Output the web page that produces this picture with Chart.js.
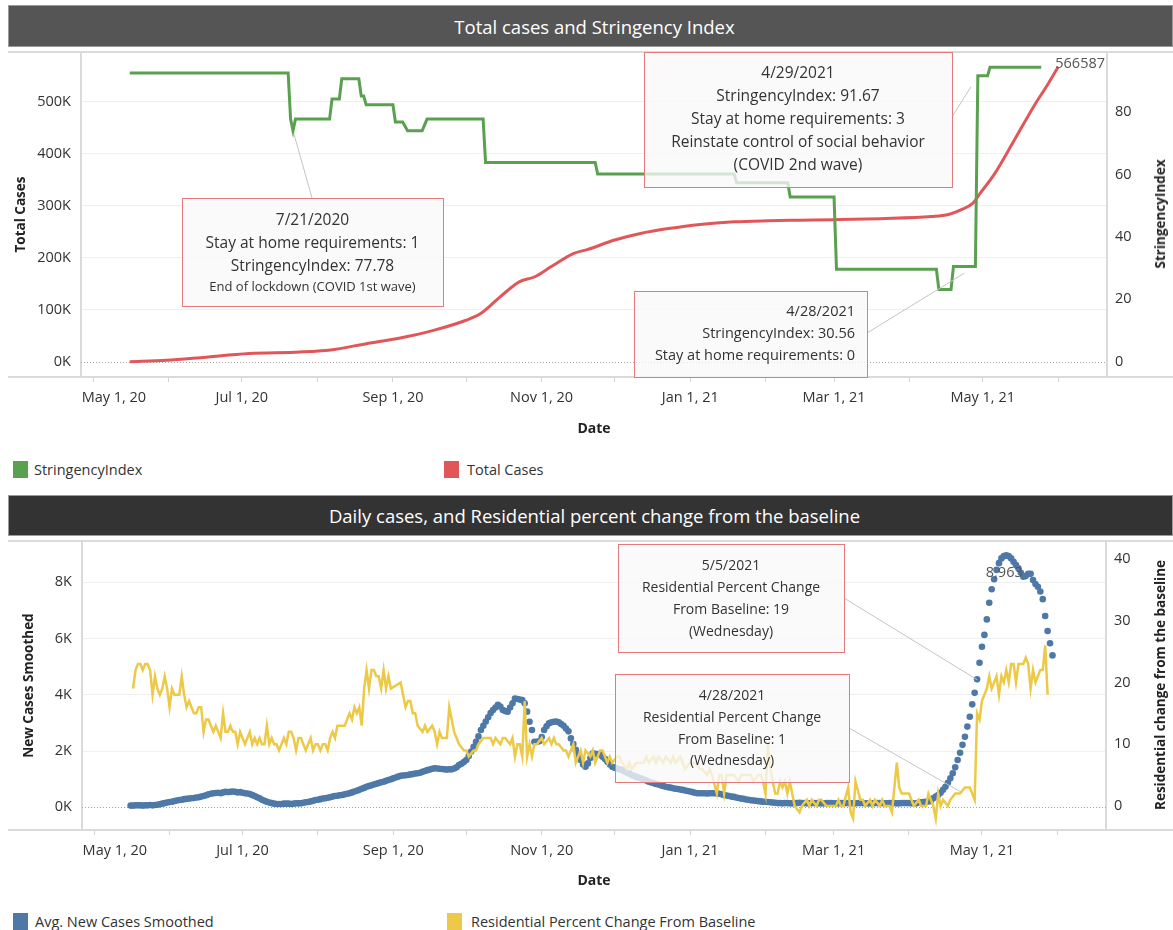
<!DOCTYPE html>
<html lang="en">
<head>
<meta charset="UTF-8">
<title>Total cases and Stringency Index</title>
<script src="https://cdn.jsdelivr.net/npm/chart.js@4.4.0/dist/chart.umd.min.js"></script>
<style>
  body { margin: 0; background: #fff; font-family: 'Open Sans', sans-serif; color: #333; }
  .page { position: relative; width: 1173px; height: 930px; overflow: hidden; }
  .header {
    position: absolute; left: 8px; width: 1163px; padding-left: 8px; box-sizing: border-box;
    display: flex; align-items: center; justify-content: center;
    color: #fff; font-size: 18.5px; border: 1px solid #9a9a9a;
  }
  .chart-box { position: absolute; left: 0; }
  .title-right {
    position: absolute; font-weight: bold; font-size: 13.5px; color: #222; white-space: nowrap;
    transform: translate(-50%, -50%) rotate(-90deg);
  }
  .swatch { position: absolute; width: 15px; height: 17px; }
  .legend-text { position: absolute; font-size: 14.5px; line-height: 17px; color: #333; }
</style>
</head>
<body>
<div class="page">
  <div class="header" style="top:5px;height:42px;width:1165px;background:#555;">Total cases and Stringency Index</div>
  <div class="chart-box" style="top:40px;"><canvas id="topChart" width="1173" height="412"></canvas></div>
  <div class="title-right" style="left:1160px;top:214px;">StringencyIndex</div>
  <div class="swatch" style="left:13px;top:461px;background:#59a14f;"></div>
  <div class="legend-text" style="left:34px;top:461px;">StringencyIndex</div>
  <div class="swatch" style="left:444px;top:461px;background:#e15759;"></div>
  <div class="legend-text" style="left:467px;top:461px;">Total Cases</div>

  <div class="header" style="top:495px;height:41px;width:1165px;background:#333;">Daily cases, and Residential percent change from the baseline</div>
  <div class="chart-box" style="top:529px;"><canvas id="bottomChart" width="1173" height="375"></canvas></div>
  <div class="title-right" style="left:1160px;top:685px;">Residential change from the baseline</div>
  <div class="swatch" style="left:13px;top:913px;background:#4e79a7;"></div>
  <div class="legend-text" style="left:35px;top:913px;">Avg. New Cases Smoothed</div>
  <div class="swatch" style="left:447px;top:913px;background:#edc948;"></div>
  <div class="legend-text" style="left:471px;top:913px;">Residential Percent Change From Baseline</div>
</div>

<script>
// x values are days counted from May 1, 2020
const monthTicks = [0, 31, 61, 92, 123, 153, 184, 214, 245, 276, 304, 335, 365, 396];
const monthLabels = ['May 1, 20', '', 'Jul 1, 20', '', 'Sep 1, 20', '', 'Nov 1, 20', '', 'Jan 1, 21', '', 'Mar 1, 21', '', 'May 1, 21', ''];

const casesTicks = [0, 100000, 200000, 300000, 400000, 500000];
const indexTicks = [0, 20, 40, 60, 80];
const newCasesTicks = [0, 2000, 4000, 6000, 8000];
const residentialTicks = [0, 10, 20, 30, 40];

// Stringency index, corners of the daily line
const stringencyDays = [15, 80, 81, 82, 83, 97, 98, 101, 102, 109, 110, 111, 112, 123, 124, 127, 129, 135, 137, 160,
  161, 206, 207, 263, 264, 285, 286, 304, 305, 346, 347, 352, 353, 362, 363, 367, 368, 389];
const stringencyValues = [92.59, 92.59, 77.78, 74.07, 77.78, 77.78, 84.26, 84.26, 90.74, 90.74, 85.19, 85.19, 82.41, 82.41, 76.85, 76.85, 74.07, 74.07, 77.78, 77.78,
  63.89, 63.89, 60.19, 60.19, 57.41, 57.41, 52.78, 52.78, 29.63, 29.63, 23.15, 23.15, 30.56, 30.56, 91.67, 91.67, 94.44, 94.44];

// Total cases
const casesDays = [15, 30, 44, 64, 85, 99, 112, 126, 140, 153, 159, 167, 175, 181, 188, 197, 203, 214, 225, 236,
  249, 263, 277, 290, 304, 323, 344, 351, 356, 361, 364, 370, 378, 386, 392, 396];
const casesValues = [200, 3000, 8000, 16000, 19000, 24000, 35000, 46000, 61000, 80000, 93000, 125000, 154000, 163000, 183000, 208000, 216000, 234000, 247000, 256000,
  264000, 269000, 271000, 272000, 273000, 275000, 279000, 283000, 292000, 305000, 324000, 362000, 426000, 491000, 535000, 566587];

// Avg. new cases smoothed, one value per day from day 15
const newCasesFirstDay = 15;
const newCases = [
  60, 60, 70, 70, 70, 60, 70, 70, 80, 70, 80,
  90, 110, 130, 150, 170, 190, 200, 220, 240, 260,
  270, 290, 300, 310, 320, 330, 350, 360, 380,
  400, 430, 460, 480, 500,
  510, 520, 500, 530, 550, 540, 550, 560,
  550, 530, 540, 520, 500, 490,
  470, 440, 400, 360, 320, 270, 230, 200,
  170, 150, 130, 120,
  120, 120, 130, 130, 130, 120, 130, 140, 140, 140,
  160, 180, 190, 210, 230, 260,
  270, 290, 310, 320, 340, 360, 380,
  400, 410, 430, 440, 460, 480, 500,
  530, 560, 590, 620, 660, 690, 730,
  760, 780, 810, 840, 860, 890, 910,
  940, 970, 1000, 1030, 1060, 1090, 1120,
  1130, 1140, 1150, 1170, 1180, 1200, 1210,
  1230, 1260, 1290, 1320, 1340, 1370, 1390,
  1380, 1370, 1360, 1350, 1340, 1350, 1350,
  1380, 1420, 1500, 1550, 1610, 1680,
  1820, 1980, 2150, 2330, 2520, 2750, 2900,
  3050, 3200, 3350, 3460, 3550, 3640, 3580,
  3460, 3420, 3400, 3550, 3700, 3870, 3850,
  3830, 3810, 3700, 3400,
  3040, 2750, 2330,
  2330, 2350, 2500, 2750, 2880, 2990, 3020, 3040,
  3050, 3020, 2960, 2900, 2800, 2700, 2450, 2250,
  2040, 1850, 1680, 1520, 1440, 1560, 1750,
  1920, 1900, 1890, 1880, 1800, 1720, 1620, 1520,
  1440, 1410, 1380, 1350, 1330, 1280, 1240,
  1200, 1150, 1120, 1080, 1050, 1020, 980,
  950, 910, 880, 860, 830, 810, 780,
  760, 730, 710, 700, 680, 660, 650,
  630, 620, 600, 580, 560, 540, 520,
  500, 500, 500, 500, 490, 500, 500,
  500, 500, 480, 460, 440, 420, 400,
  380, 370, 350, 330, 310, 300, 280,
  270, 250, 240, 230, 220, 210, 200,
  200, 190, 180, 170, 160, 150, 150,
  140, 150, 150, 140, 140, 150, 150, 160, 150, 150,
  140, 140, 150, 150, 150, 140, 140, 140, 150, 150,
  150, 140, 140, 140, 150, 150, 150, 150, 140, 140,
  140, 150, 150, 150, 140, 140, 140, 140, 150, 150,
  150, 150, 140, 140, 150, 150, 150, 140, 140, 150,
  150, 150, 150, 140, 140, 140,
  170, 180, 190, 200, 210,
  230, 320, 380, 440, 520, 620, 730, 870, 1030, 1210, 1420, 1680, 1940, 2220, 2510, 2870, 3220, 3660,
  4070, 4550, 5140, 5710, 6130, 6680, 7270, 7750, 8110, 8440, 8680, 8850, 8930, 8963,
  8930, 8850, 8730, 8610, 8500, 8340, 8200, 8220, 8300, 8300, 8080, 7940, 7840, 7670, 7400, 6800, 6270, 5830, 5400
];

// Residential percent change from baseline
const residentialDays = [
  16, 17, 18, 19, 20, 21, 22, 23, 24, 25, 26, 27, 28, 29, 30, 31, 32, 33, 34, 35,
  36, 37, 38, 39, 40, 41, 42, 43, 44, 45, 46, 47, 48, 49, 50, 51, 52, 53, 54, 55,
  56, 57, 58, 59, 60, 61, 62, 63, 64, 65, 66, 67, 68, 69, 70, 71, 72, 73, 74, 75,
  76, 77, 78, 79, 80, 81, 82, 83, 84, 85, 86, 87, 88, 89, 90, 91, 92, 93, 94, 95,
  96, 97, 98, 99, 100, 101, 102, 103, 104, 105, 106, 107, 108, 109, 110, 111, 112, 113, 114, 115,
  116, 117, 118, 119, 120, 121, 122,
  126, 127, 128, 129, 130, 131, 132, 133, 135, 136, 137, 139, 140, 141, 142, 143, 145, 146, 148, 149,
  150, 152, 153, 154, 156, 157, 158, 160, 161, 163, 164, 165, 167, 168, 169, 171, 172, 173, 174, 175,
  176, 177, 178, 179, 180, 181, 182, 184, 185, 187, 188, 189, 190, 191, 193, 194, 195, 197, 198, 200,
  201, 202, 204, 205, 206, 208, 209, 211, 212, 213, 215, 216, 217, 219, 220, 221, 223, 224, 226, 227,
  228, 230, 231, 232, 234, 235, 237, 238, 239, 241, 242, 243, 245, 246, 247, 249, 250, 252, 253, 254,
  256, 257, 258, 259, 260, 262, 263, 265, 266, 267, 269, 270, 271, 273, 274, 275, 276, 277, 278, 280,
  281, 282, 283, 284, 285, 286, 287, 288, 290, 291, 293, 294, 295, 297, 298, 299, 301, 302, 304, 305,
  306, 307, 308, 310, 311, 312, 313, 315, 316, 317, 319, 320, 321, 323, 324, 325, 327, 328, 330, 331,
  332, 333, 335, 336, 337, 339, 340, 342, 343, 345, 346, 347, 348, 349, 351, 352, 354, 355, 356, 358,
  360, 361, 362, 363, 364, 365, 366, 367, 368, 369, 370, 371, 372, 373, 374, 375, 376, 377, 378, 379,
  380, 381, 382, 383, 384, 385, 386, 387, 388, 389, 390, 391, 392
];
const residentialValues = [
  19, 22, 23, 23, 22, 23, 23, 22, 18, 21, 19, 18, 19, 21, 19, 16, 19, 18, 18, 18,
  21, 18, 16, 17, 16, 15, 15, 16, 16, 12, 14, 14, 13, 12, 13, 12, 11, 15, 12, 12,
  13, 12, 12, 10, 12, 11, 10, 11, 12, 10, 11, 10, 11, 10, 10, 13, 10, 11, 10, 10,
  9, 10, 11, 10, 12, 12, 11, 9, 11, 11, 10, 9, 10, 11, 9, 10, 10, 9, 10, 10,
  9, 11, 12, 11, 13, 13, 13, 13, 14, 15, 14, 16, 15, 16, 13, 19, 22, 19, 22, 22,
  21, 21, 19, 22, 19, 21, 19,
  20, 18, 16, 17, 17, 15, 15, 13, 12, 13, 12, 13, 12, 10, 12, 11, 11, 16, 12, 11,
  10, 9, 9, 8, 9, 9, 10, 11, 11, 11, 10, 11, 10, 11, 11, 10, 11, 8, 10, 10,
  8, 17, 8, 10, 8, 10, 10, 11, 10, 11, 10, 11, 10, 10, 9, 9, 8, 10, 7, 9,
  7, 9, 8, 9, 7, 9, 9, 7, 8, 7, 8, 8, 7, 6, 7, 6, 7, 7, 7, 8,
  7, 8, 7, 8, 7, 8, 7, 8, 7, 8, 7, 6, 7, 7, 7, 6, 6, 5, 6, 5,
  2, 5, 5, 2, 5, 5, 5, 4, 5, 5, 5, 5, 4, 5, 5, 4, 2, 10, 6, 2,
  2, 4, 3, 4, 2, 4, 2, 0, -1, 0, 1, 0, 1, 0, 1, 1, 0, 0, 0, 0,
  1, 0, 0, 3, -1, -2, 4, 1, 1, 0, 1, 0, 1, 0, 1, 0, 0, -1, 7, 3,
  2, 2, 2, 1, 0, 1, 0, 0, 2, 0, -2, 2, 0, 1, 0, 1, 2, 2, 2, 3,
  3, 2, 1, 15, 14, 17, 18, 19, 21, 19, 20, 21, 18, 21, 20, 22, 20, 23, 23, 20,
  23, 23, 23, 24, 23, 19, 22, 20, 21, 22, 22, 26, 18
];

const GREEN = '#59a14f', RED = '#e15759', BLUE = '#4e79a7', YELLOW = '#edc948';

Chart.defaults.font.family = '"Open Sans", sans-serif';
Chart.defaults.color = '#333';

const toPoints = (xs, ys) => xs.map((x, i) => ({x: x, y: ys[i]}));

// keep the pane exactly where the layout puts it: no extra room for half tick labels
function fixWidth(w) {
  return s => { s.width = w; s.paddingTop = 0; s.paddingBottom = 0; };
}

function dateAxis(height) {
  return {
    type: 'linear', min: -5, max: 416,
    afterBuildTicks: s => { s.ticks = monthTicks.map(v => ({value: v})); },
    afterFit: s => { s.height = height; s.paddingLeft = 0; s.paddingRight = 0; },
    grid: {drawOnChartArea: false, tickLength: 5, color: '#d4d4d4'},
    border: {display: false},
    ticks: {
      autoSkip: false, maxRotation: 0, padding: 7, font: {size: 14.5},
      // Tableau nudges the first label inside the pane
      callback: (v, i) => i === 0 ? monthLabels[i].padStart(monthLabels[i].length + 11) : monthLabels[i]
    },
    title: {display: true, text: 'Date', font: {size: 14, weight: 'bold'}, color: '#222', padding: {top: 0, bottom: 15}}
  };
}

// frame lines, dotted zero line, callout boxes and mark labels
function paneDecor(cfg) {
  return {
    id: 'paneDecor',
    beforeDatasetsDraw(chart) {
      const {ctx, chartArea: a} = chart;
      ctx.save();
      ctx.strokeStyle = '#dadada';
      ctx.lineWidth = 2;
      [a.top, a.bottom].forEach(y => {
        ctx.beginPath(); ctx.moveTo(8, y); ctx.lineTo(chart.width, y); ctx.stroke();
      });
      const y0 = Math.round(chart.scales[cfg.zeroAxis].getPixelForValue(0)) + 0.5;
      ctx.strokeStyle = '#a0a0a0';
      ctx.lineWidth = 1;
      ctx.setLineDash([1, 2]);
      ctx.beginPath(); ctx.moveTo(a.left, y0); ctx.lineTo(a.right, y0); ctx.stroke();
      ctx.restore();
    },
    afterDatasetsDraw(chart) {
      const {ctx} = chart;
      const off = cfg.offsetY;
      ctx.save();
      cfg.notes.forEach(n => {
        const [bx, byPage, bw, bh] = n.box;
        const by = byPage - off;
        const px = chart.scales.x.getPixelForValue(n.at[0]);
        const py = chart.scales[n.axis].getPixelForValue(n.at[1]);
        const sx = n.from[0], sy = n.from[1] - off;
        const len = Math.hypot(px - sx, py - sy);
        const k = (len - n.gap) / len;
        ctx.strokeStyle = '#c4c4c4';
        ctx.lineWidth = 1;
        ctx.beginPath(); ctx.moveTo(sx, sy); ctx.lineTo(sx + (px - sx) * k, sy + (py - sy) * k); ctx.stroke();

        ctx.fillStyle = 'rgba(249,249,249,0.78)';
        ctx.fillRect(bx, by, bw, bh);
        ctx.strokeStyle = '#e47a7b';
        ctx.strokeRect(bx + 0.5, by + 0.5, bw, bh);

        ctx.fillStyle = '#333';
        ctx.textBaseline = 'middle';
        ctx.textAlign = n.align;
        const tx = n.align === 'right' ? n.textX : bx + bw / 2;
        n.lines.forEach(l => {
          ctx.font = l[1] + 'px "Open Sans"';
          ctx.fillText(l[0], tx, l[2] - off);
        });
      });
      const m = cfg.mark;
      const pt = chart.getDatasetMeta(m.dataset).data[m.index];
      ctx.font = '14.5px "Open Sans"';
      ctx.fillStyle = '#555';
      ctx.textAlign = m.align;
      ctx.textBaseline = 'middle';
      ctx.fillText(m.text, pt.x + m.dx, pt.y + m.dy);
      ctx.restore();
    }
  };
}

new Chart(document.getElementById('topChart'), {
  type: 'line',
  data: {
    datasets: [
      {label: 'StringencyIndex', data: toPoints(stringencyDays, stringencyValues), yAxisID: 'yIndex',
        borderColor: GREEN, borderWidth: 3, pointRadius: 0, tension: 0, order: 1},
      {label: 'Total Cases', data: toPoints(casesDays, casesValues), yAxisID: 'yCases',
        borderColor: RED, borderWidth: 3, pointRadius: 0, cubicInterpolationMode: 'monotone', order: 2}
    ]
  },
  options: {
    responsive: false,
    animation: false,
    layout: {padding: {top: 12, left: 0, right: 0, bottom: 0}},
    plugins: {legend: {display: false}, tooltip: {enabled: false}},
    scales: {
      x: dateAxis(75),
      yCases: {
        position: 'left', min: -29000, max: 595000,
        afterBuildTicks: s => { s.ticks = casesTicks.map(v => ({value: v})); },
        afterFit: fixWidth(81),
        grid: {color: c => (c.tick && c.tick.value === 0) ? 'rgba(0,0,0,0)' : '#efefef', drawTicks: false},
        border: {color: '#dadada', width: 2},
        ticks: {padding: 10, font: {size: 14.5}, callback: v => (v / 1000) + 'K'},
        title: {display: true, text: 'Total Cases', font: {size: 13.5, weight: 'bold'}, color: '#222', padding: {top: 13, bottom: 0}}
      },
      yIndex: {
        position: 'right', min: -4.9, max: 99.3,
        afterBuildTicks: s => { s.ticks = indexTicks.map(v => ({value: v})); },
        afterFit: fixWidth(66),
        grid: {drawOnChartArea: false, drawTicks: false},
        border: {color: '#dadada', width: 2},
        ticks: {padding: 8, font: {size: 14.5}}
      }
    }
  },
  plugins: [paneDecor({
    offsetY: 40,
    zeroAxis: 'yCases',
    notes: [
      {box: [182, 198, 261, 108], align: 'center', from: [312, 198], at: [82, 74.07], axis: 'yIndex', gap: 3,
        lines: [['7/21/2020', 15.5, 221], ['Stay at home requirements: 1', 15.5, 244],
                ['StringencyIndex: 77.78', 15.5, 267], ['End of lockdown (COVID 1st wave)', 13, 287]]},
      {box: [644, 52, 308, 135], align: 'center', from: [952, 117], at: [363, 91.67], axis: 'yIndex', gap: 13,
        lines: [['4/29/2021', 15.5, 74], ['StringencyIndex: 91.67', 15.5, 97], ['Stay at home requirements: 3', 15.5, 120],
                ['Reinstate control of social behavior', 15.5, 143], ['(COVID 2nd wave)', 15.5, 166]]},
      {box: [634, 291, 233, 86], align: 'right', textX: 855, from: [867, 333], at: [362, 30.56], axis: 'yIndex', gap: 13,
        lines: [['4/28/2021', 14.5, 312], ['StringencyIndex: 30.56', 14.5, 334], ['Stay at home requirements: 0', 14.5, 356]]}
    ],
    mark: {dataset: 1, index: casesValues.length - 1, text: String(casesValues[casesValues.length - 1]), dx: -3, dy: -3, align: 'left'}
  })]
});

const peak = Math.max(...newCases);

new Chart(document.getElementById('bottomChart'), {
  type: 'line',
  data: {
    datasets: [
      {label: 'Residential Percent Change From Baseline', data: toPoints(residentialDays, residentialValues), yAxisID: 'yRes',
        borderColor: YELLOW, borderWidth: 2.5, pointRadius: 0, tension: 0, order: 1},
      {label: 'Avg. New Cases Smoothed', data: newCases.map((v, i) => ({x: newCasesFirstDay + i, y: v})), yAxisID: 'yNew',
        showLine: false, pointRadius: 3.3, pointBorderWidth: 0, pointBackgroundColor: BLUE, borderColor: BLUE, order: 2}
    ]
  },
  options: {
    responsive: false,
    animation: false,
    layout: {padding: {top: 12, left: 0, right: 0, bottom: 0}},
    plugins: {legend: {display: false}, tooltip: {enabled: false}},
    scales: {
      x: dateAxis(74),
      yNew: {
        position: 'left', min: -807, max: 9468,
        afterBuildTicks: s => { s.ticks = newCasesTicks.map(v => ({value: v})); },
        afterFit: fixWidth(82),
        grid: {color: c => (c.tick && c.tick.value === 0) ? 'rgba(0,0,0,0)' : '#efefef', drawTicks: false},
        border: {color: '#dadada', width: 2},
        ticks: {padding: 10, font: {size: 14.5}, callback: v => (v / 1000) + 'K'},
        title: {display: true, text: 'New Cases Smoothed', font: {size: 13.5, weight: 'bold'}, color: '#222', padding: {top: 21, bottom: 0}}
      },
      yRes: {
        position: 'right', min: -3.89, max: 42.9,
        afterBuildTicks: s => { s.ticks = residentialTicks.map(v => ({value: v})); },
        afterFit: fixWidth(67),
        grid: {drawOnChartArea: false, drawTicks: false},
        border: {color: '#dadada', width: 2},
        ticks: {padding: 8, font: {size: 14.5}}
      }
    }
  },
  plugins: [paneDecor({
    offsetY: 529,
    zeroAxis: 'yNew',
    notes: [
      {box: [618, 544, 226, 108], align: 'center', from: [844, 598], at: [369, 19], axis: 'yRes', gap: 17,
        lines: [['5/5/2021', 14, 566], ['Residential Percent Change', 14, 588], ['From Baseline: 19', 14, 610], ['(Wednesday)', 14, 632]]},
      {box: [615, 674, 234, 108], align: 'center', from: [849, 728], at: [362, 1], axis: 'yRes', gap: 15,
        lines: [['4/28/2021', 14, 696], ['Residential Percent Change', 14, 718], ['From Baseline: 1', 14, 740], ['(Wednesday)', 14, 761]]}
    ],
    mark: {dataset: 1, index: newCases.indexOf(peak), text: peak.toLocaleString('en-US'), dx: -2, dy: 18, align: 'center'}
  })]
});
</script>
</body>
</html>
